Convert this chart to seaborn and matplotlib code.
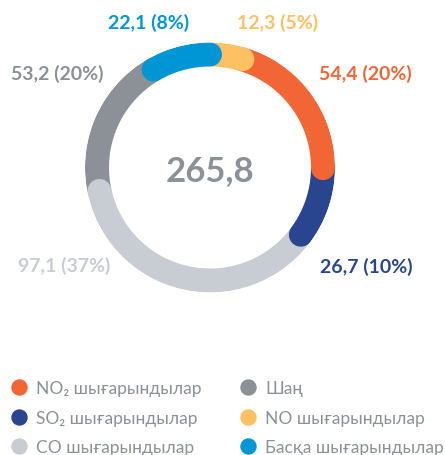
import numpy as np
import matplotlib
matplotlib.use("Agg")
import matplotlib.pyplot as plt
from matplotlib.lines import Line2D
import seaborn as sns

# ---- data (clockwise from 12 o'clock) ----
categories = ["NO", "NO2", "SO2", "CO", "Шаң", "Басқа"]
values = [12.3, 54.4, 26.7, 97.1, 53.2, 22.1]
value_labels = ["12,3 (5%)", "54,4 (20%)", "26,7 (10%)", "97,1 (37%)", "53,2 (20%)", "22,1 (8%)"]
total_label = "265,8"
colors = ["#FDC062", "#F26535", "#2A4590", "#C8CDD3", "#8B9196", "#0096D6"]
legend_col1 = [("NO₂ шығарындылар", "#F26535"), ("SO₂ шығарындылар", "#2A4590"), ("CO шығарындылар", "#C8CDD3")]
legend_col2 = [("Шаң", "#8B9196"), ("NO шығарындылар", "#FDC062"), ("Басқа шығарындылар", "#0096D6")]

sns.set_theme(style="white")
plt.rcParams["font.family"] = ["Lato", "Open Sans", "DejaVu Sans"]

W, H = 445, 456
fig = plt.figure(figsize=(W / 100, H / 100), dpi=100)
fig.patch.set_facecolor("white")

cx, cy = 210, 168.5
r_mid = 113
half = 125
ax = fig.add_axes([(cx - half) / W, (H - cy - half) / H, 2 * half / W, 2 * half / H], projection="polar")
ax.set_theta_zero_location("N")
ax.set_theta_direction(-1)
ax.set_ylim(0, half / r_mid)
ax.axis("off")

total = sum(values)
starts = np.concatenate([[0], np.cumsum(values)[:-1]]) / total * 2 * np.pi
ends = np.cumsum(values) / total * 2 * np.pi
lw = 24 * 72 / 100
draw_order = [4, 3, 2, 1, 0, 5]
for i in draw_order:
    th = np.linspace(starts[i], ends[i], 200)
    ax.plot(th, np.ones_like(th), color=colors[i], lw=lw, solid_capstyle="round", zorder=2 + draw_order.index(i))

# value labels
label_pos = [(278, 23), (365, 74), (366, 267), (64, 266), (57, 74), (149, 23)]
for (x, y), t, c in zip(label_pos, value_labels, colors):
    fig.text(x / W, 1 - y / H, t, color=c, fontsize=14, fontweight="bold", ha="center", va="center")

fig.text(cx / W, 1 - 171 / H, total_label, color="#8B9196", fontsize=25, fontweight="bold", ha="center", va="center")

def make_legend(items, x, y):
    handles = [Line2D([], [], marker="o", linestyle="none", markersize=10.8, markerfacecolor=c, markeredgecolor=c) for _, c in items]
    leg = fig.legend(handles, [t for t, _ in items], loc="upper left", bbox_to_anchor=(x / W, 1 - y / H),
                     frameon=False, fontsize=12.5, labelcolor="#8B9196", handlelength=1.0, handletextpad=0.5,
                     labelspacing=0.79, borderaxespad=0, borderpad=0)
    return leg

make_legend(legend_col1, 10, 381)
make_legend(legend_col2, 239, 381)

fig.savefig("out.png", dpi=100, facecolor="white")
